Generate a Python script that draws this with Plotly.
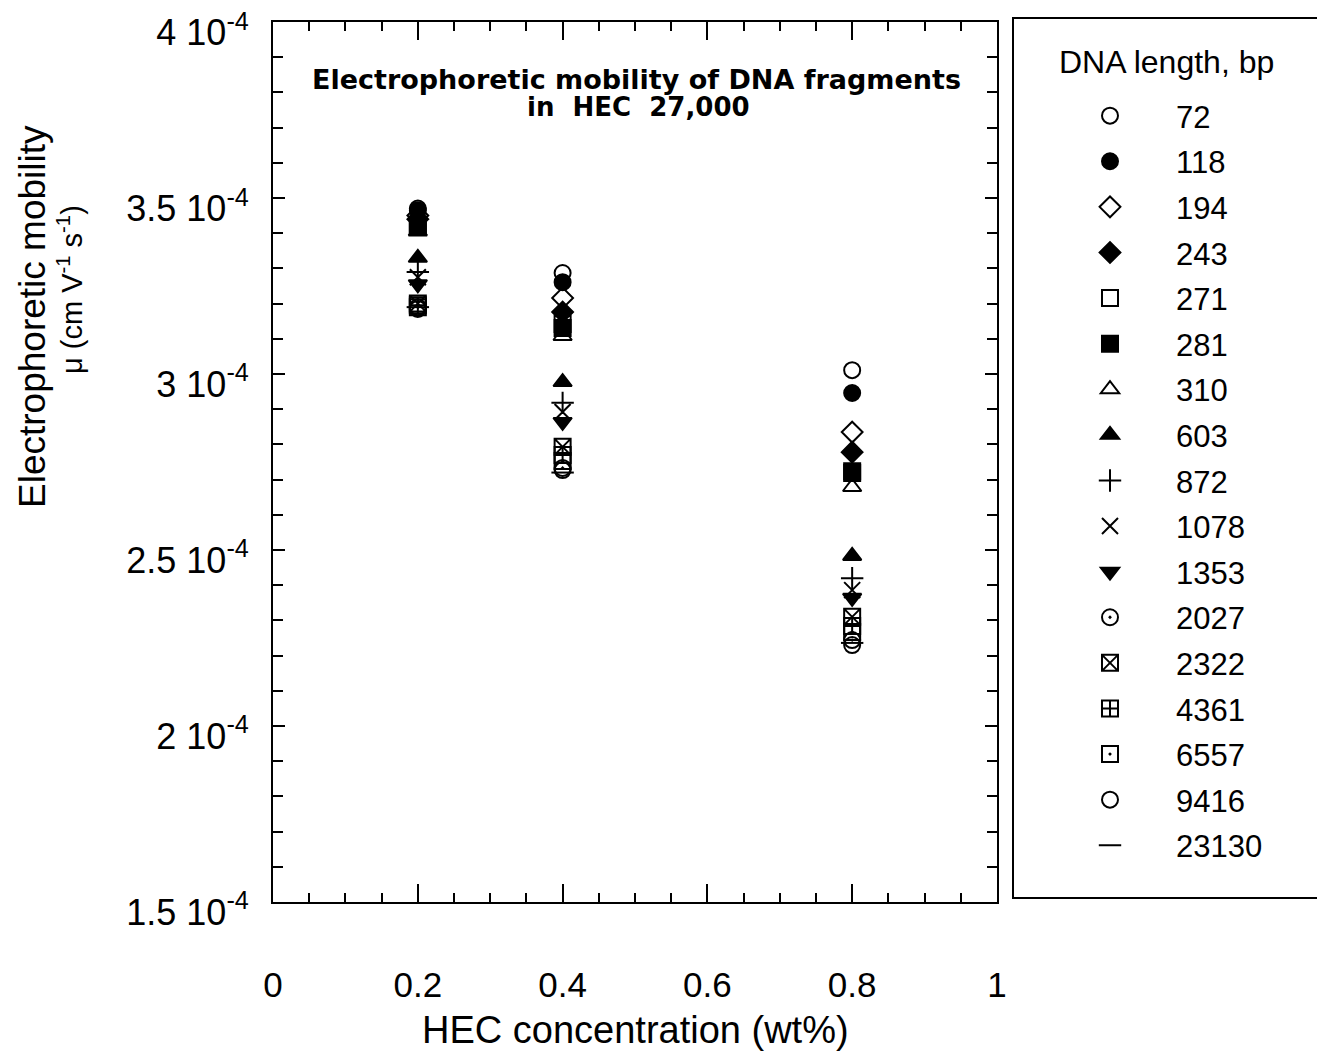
import plotly.graph_objects as go

# HEC concentration (wt%)
conc = [0.2, 0.4, 0.8]

# DNA length (bp) and marker symbols
dna_lengths = ["72", "118", "194", "243", "271", "281", "310", "603", "872",
               "1078", "1353", "2027", "2322", "4361", "6557", "9416", "23130"]
symbols = ["circle-open", "circle", "diamond-open", "diamond", "square-open", "square",
           "triangle-up-open", "triangle-up", "cross-thin-open", "x-thin-open",
           "triangle-down", "circle-open-dot", "square-x-open", "square-cross-open",
           "square-open-dot", "circle-open", "line-ew-open"]

# Electrophoretic mobility, in units of 1e-4 cm V^-1 s^-1, at 0.2 / 0.4 / 0.8 wt%
mu_72 = [3.47, 3.287, 3.011]
mu_118 = [3.465, 3.261, 2.946]
mu_194 = [3.45, 3.216, 2.835]
mu_243 = [3.44, 3.176, 2.778]
mu_271 = [3.425, 3.142, 2.724]
mu_281 = [3.42, 3.131, 2.719]
mu_310 = [3.405, 3.108, 2.679]
mu_603 = [3.33, 2.977, 2.483]
mu_872 = [3.29, 2.918, 2.42]
mu_1078 = [3.275, 2.892, 2.386]
mu_1353 = [3.255, 2.864, 2.364]
mu_2027 = [3.19, 2.733, 2.244]
mu_2322 = [3.20, 2.793, 2.31]
mu_4361 = [3.195, 2.770, 2.284]
mu_6557 = [3.19, 2.753, 2.267]
mu_9416 = [3.185, 2.727, 2.230]
mu_23130 = [3.19, 2.72, 2.236]

series = [mu_72, mu_118, mu_194, mu_243, mu_271, mu_281, mu_310, mu_603, mu_872,
          mu_1078, mu_1353, mu_2027, mu_2322, mu_4361, mu_6557, mu_9416, mu_23130]

y_tickvals = [1.5, 2, 2.5, 3, 3.5, 4]
y_ticktext = ["1.5 10<sup>-4</sup>", "2 10<sup>-4</sup>", "2.5 10<sup>-4</sup>",
              "3 10<sup>-4</sup>", "3.5 10<sup>-4</sup>", "4 10<sup>-4</sup>"]
y_minor = [1.6, 1.7, 1.8, 1.9, 2.1, 2.2, 2.3, 2.4, 2.6, 2.7, 2.8, 2.9,
           3.1, 3.2, 3.3, 3.4, 3.6, 3.7, 3.8, 3.9]
x_tickvals = [0, 0.2, 0.4, 0.6, 0.8, 1]
x_ticktext = ["0", "0.2", "0.4", "0.6", "0.8", "1"]

FONT = "Liberation Sans, Arial, sans-serif"

# plot-area geometry in pixels (used for paper-coordinate placement)
L, R, T, B = 273, 997, 22, 902
W, H = R - L, B - T


def px(xp):
    return (xp - L) / W


def py(yp):
    return (B - yp) / H


fig = go.Figure()
for name, sym, vals in zip(dna_lengths, symbols, series):
    fig.add_trace(go.Scatter(
        x=conc, y=vals, mode="markers", name=name, legendgroup=name,
        marker=dict(symbol=sym, size=16, color="black",
                    line=dict(color="black", width=2)),
    ))

fig.update_layout(
    width=1317, height=1053,
    margin=dict(l=L, r=1317 - R, t=T, b=1053 - B, autoexpand=False),
    paper_bgcolor="white", plot_bgcolor="white",
    font=dict(family=FONT, color="black", size=34),
    showlegend=True,
    legend=dict(
        x=px(1044), y=py(89), xanchor="left", yanchor="top",
        font=dict(family=FONT, size=31, color="black"),
        itemwidth=122, tracegroupgap=2.3,
        bgcolor="rgba(0,0,0,0)", borderwidth=0,
    ),
)

fig.update_xaxes(
    range=[-0.0001, 1.0001], tickvals=x_tickvals, ticktext=x_ticktext,
    showgrid=False, zeroline=False,
    showline=True, linecolor="black", linewidth=2, mirror="allticks",
    ticks="inside", ticklen=18, tickwidth=2, tickcolor="black",
    minor=dict(dtick=0.05, ticks="inside", ticklen=9, tickwidth=2, tickcolor="black", showgrid=False),
    ticklabelstandoff=51, ticklabeloverflow="allow",
    tickfont=dict(family=FONT, size=35),
)
fig.update_yaxes(
    range=[1.4999, 4.0001], tickvals=y_tickvals, ticktext=y_ticktext,
    showgrid=False, zeroline=False,
    showline=True, linecolor="black", linewidth=2, mirror="allticks",
    ticks="inside", ticklen=12, tickwidth=2, tickcolor="black",
    minor=dict(tickvals=y_minor, ticks="inside", ticklen=10, tickwidth=2,
               tickcolor="black", showgrid=False),
    ticklabelstandoff=15, ticklabelshift=10, ticklabeloverflow="allow",
    tickfont=dict(family=FONT, size=36),
)

# legend frame
fig.add_shape(type="rect", xref="paper", yref="paper",
              x0=px(1013), x1=px(1330), y0=py(898), y1=py(18),
              line=dict(color="black", width=2), fillcolor="rgba(0,0,0,0)")

# legend heading
fig.add_annotation(
    text="DNA length, bp", xref="paper", yref="paper",
    x=px(1166), y=py(62), xanchor="center", yanchor="middle",
    showarrow=False, font=dict(family=FONT, size=32, color="black"),
)

# inner title (two lines)
fig.add_annotation(
    text="<b>Electrophoretic mobility of DNA fragments</b>",
    xref="paper", yref="paper", x=px(636), y=py(79), xanchor="center", yanchor="middle",
    showarrow=False, font=dict(family="DejaVu Sans", size=27, color="black"),
)
fig.add_annotation(
    text="<b>in  HEC  27,000</b>",
    xref="paper", yref="paper", x=px(638), y=py(107), xanchor="center", yanchor="middle",
    showarrow=False, font=dict(family="DejaVu Sans", size=26, color="black"),
)

# y-axis title (two lines)
fig.add_annotation(
    text="Electrophoretic mobility", xref="paper", yref="paper",
    x=px(32), y=py(317), xanchor="center", yanchor="middle",
    textangle=-90, showarrow=False, font=dict(family=FONT, size=37, color="black"),
)
fig.add_annotation(
    text="μ (cm V<sup>-1</sup> s<sup>-1</sup>)", xref="paper", yref="paper",
    x=px(70), y=py(290), xanchor="center", yanchor="middle",
    textangle=-90, showarrow=False, font=dict(family=FONT, size=29, color="black"),
)

# x-axis title
fig.add_annotation(
    text="HEC concentration (wt%)", xref="paper", yref="paper",
    x=px(635), y=py(1030), xanchor="center", yanchor="middle",
    showarrow=False, font=dict(family=FONT, size=38, color="black"),
)

fig.write_html("out.html")
